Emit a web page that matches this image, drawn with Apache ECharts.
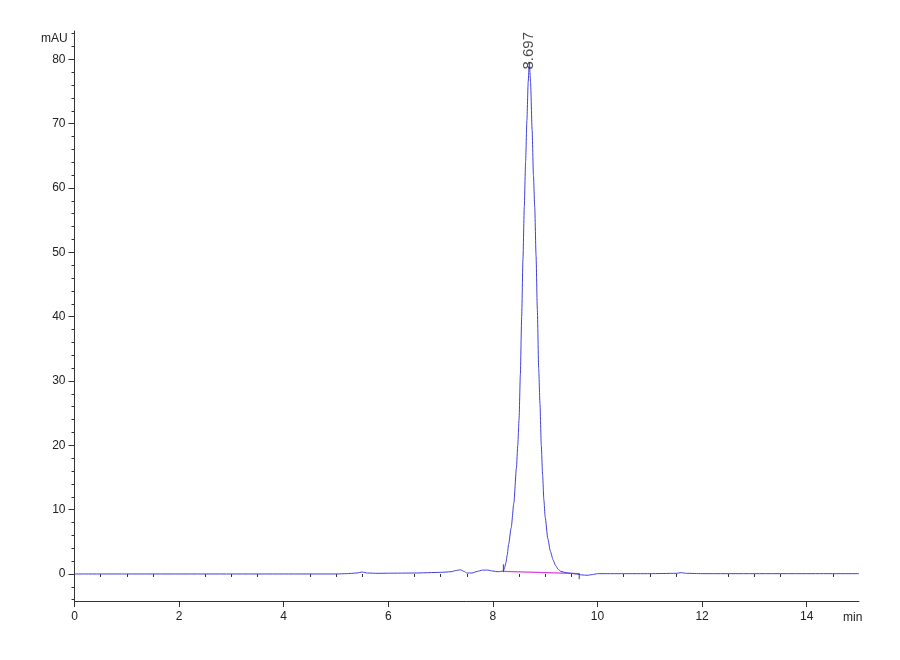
<!DOCTYPE html>
<html>
<head>
<meta charset="utf-8">
<script src="https://cdn.jsdelivr.net/npm/echarts@6/dist/echarts.min.js"></script>
<style>
html,body{margin:0;padding:0;background:#fff;}
#chart{width:900px;height:660px;}
</style>
</head>
<body>
<div id="chart"></div>
<script>
// Retention time (min) and absorbance (mAU)
const times = [0, 1, 2, 3, 4, 5, 5.2, 5.4, 5.5, 5.6, 5.8, 6.0, 6.5, 7.0, 7.2, 7.3, 7.38, 7.45, 7.5, 7.6, 7.7, 7.8, 7.9, 8.0, 8.1, 8.2,
  8.225, 8.25, 8.275, 8.3, 8.35, 8.4, 8.45, 8.475, 8.5, 8.525, 8.55, 8.575, 8.6, 8.625, 8.65, 8.675, 8.697,
  8.72, 8.75, 8.775, 8.8, 8.825, 8.85, 8.875, 8.9, 8.925, 8.95, 8.975, 9.0, 9.05, 9.1, 9.15, 9.2, 9.25, 9.3, 9.4, 9.5,
  9.6, 9.7, 9.8, 9.9, 10.0, 10.5, 11.0, 11.5, 11.6, 11.7, 12.0, 13.0, 14.0, 15.0];
const absorbance = [0, 0, 0, 0, 0, 0, 0.05, 0.15, 0.3, 0.15, 0.1, 0.12, 0.15, 0.25, 0.35, 0.55, 0.65, 0.4, 0.15, 0.15, 0.4, 0.6, 0.6, 0.45, 0.35, 0.45,
  1.0, 1.8, 3.0, 4.6, 7.2, 11.0, 16.5, 20.0, 24.0, 31.0, 40.0, 49.0, 57.0, 64.0, 70.5, 76.5, 79.5,
  76.5, 69.0, 62.0, 57.0, 49.5, 41.0, 32.0, 26.5, 20.0, 15.5, 11.5, 8.8, 5.5, 3.5, 2.2, 1.3, 0.7, 0.4, 0.2, 0.1,
  0.0, -0.15, -0.2, -0.1, 0.05, 0.05, 0.05, 0.1, 0.2, 0.1, 0.05, 0.05, 0.05, 0.05];

// Integration baseline and start/end markers
const baselineTimes = [8.2, 9.65];
const baselineValues = [0.4, 0.05];
const startMarkTimes = [8.2, 8.2];
const startMarkValues = [0.3, 1.5];
const endMarkTimes = [9.65, 9.65];
const endMarkValues = [0.1, -0.8];

// Peak annotation
const peakTimes = [8.697];
const peakValues = [79.5];
const peakLabels = ['8.697'];

// Axis ticks
const xMajor = [0, 2, 4, 6, 8, 10, 12, 14];
const xMinor = [0.5, 1, 1.5, 2.5, 3, 3.5, 4.5, 5, 5.5, 6.5, 7, 7.5, 8.5, 9, 9.5, 10.5, 11, 11.5, 12.5, 13, 13.5, 14.5];
const yMajor = [0, 10, 20, 30, 40, 50, 60, 70, 80];
const yMinor = [-4, -2, 2, 4, 6, 8, 12, 14, 16, 18, 22, 24, 26, 28, 32, 34, 36, 38, 42, 44, 46, 48, 52, 54, 56, 58, 62, 64, 66, 68, 72, 74, 76, 78, 82, 84];

const zip = (a, b) => a.map((v, i) => [v, b[i]]);

const FONT = '"Liberation Sans", Arial, sans-serif';
const AX = '#333';
const XMIN = 0, XMAX = 15, YMIN = -4.2, YMAX = 84.4;

const chart = echarts.init(document.getElementById('chart'));
chart.setOption({
  backgroundColor: '#ffffff',
  animation: false,
  title: [
    {text: 'mAU', left: 41, top: 33, padding: 0, textStyle: {fontSize: 12, fontWeight: 'normal', color: '#222', fontFamily: FONT}},
    {text: 'min', left: 843, top: 612, padding: 0, textStyle: {fontSize: 12, fontWeight: 'normal', color: '#222', fontFamily: FONT}}
  ],
  grid: {left: 74.5, right: 41, top: 31, bottom: 59, containLabel: false},
  xAxis: [
    {type: 'value', min: XMIN, max: XMAX, position: 'bottom',
     axisLine: {show: true, onZero: false, lineStyle: {color: AX, width: 1}},
     axisTick: {show: true, customValues: xMajor, length: 6, lineStyle: {color: AX}},
     axisLabel: {customValues: xMajor, margin: 10, fontSize: 12, color: '#222', fontFamily: FONT},
     splitLine: {show: false}},
    {type: 'value', min: XMIN, max: XMAX, position: 'bottom',
     axisLine: {show: false},
     axisTick: {show: true, customValues: xMinor, length: 3, lineStyle: {color: AX}},
     axisLabel: {show: false},
     splitLine: {show: false}}
  ],
  yAxis: [
    {type: 'value', min: YMIN, max: YMAX, position: 'left',
     axisLine: {show: true, onZero: false, lineStyle: {color: AX, width: 1}},
     axisTick: {show: true, customValues: yMajor, length: 6, lineStyle: {color: AX}},
     axisLabel: {customValues: yMajor, margin: 9, fontSize: 12, color: '#222', fontFamily: FONT},
     splitLine: {show: false}},
    {type: 'value', min: YMIN, max: YMAX, position: 'left',
     axisLine: {show: false},
     axisTick: {show: true, customValues: yMinor, length: 3, lineStyle: {color: AX}},
     axisLabel: {show: false},
     splitLine: {show: false}}
  ],
  series: [
    {type: 'line', name: 'baseline', xAxisIndex: 0, yAxisIndex: 0, data: zip(baselineTimes, baselineValues),
     showSymbol: false, lineStyle: {color: '#e040d8', width: 1.2}, z: 3},
    {type: 'line', name: 'signal', xAxisIndex: 0, yAxisIndex: 0, data: zip(times, absorbance),
     showSymbol: false, smooth: 0.2, smoothMonotone: 'x', lineStyle: {color: '#4040dc', width: 1}, z: 4},
    {type: 'line', name: 'start', data: zip(startMarkTimes, startMarkValues), showSymbol: false,
     lineStyle: {color: '#444', width: 1}, z: 5},
    {type: 'line', name: 'end', data: zip(endMarkTimes, endMarkValues), showSymbol: false,
     lineStyle: {color: '#444', width: 1}, z: 5},
    {type: 'scatter', name: 'peak', data: zip(peakTimes, peakValues), symbolSize: 2,
     itemStyle: {color: 'rgba(0,0,0,0)'}, z: 6, silent: true,
     label: {show: true, formatter: (p) => peakLabels[p.dataIndex], rotate: 90, position: 'top', distance: -8,
       align: 'left', verticalAlign: 'middle', offset: [0, 0], fontSize: 15, color: '#1a1a1a', fontFamily: FONT}}
  ]
});
</script>
</body>
</html>
